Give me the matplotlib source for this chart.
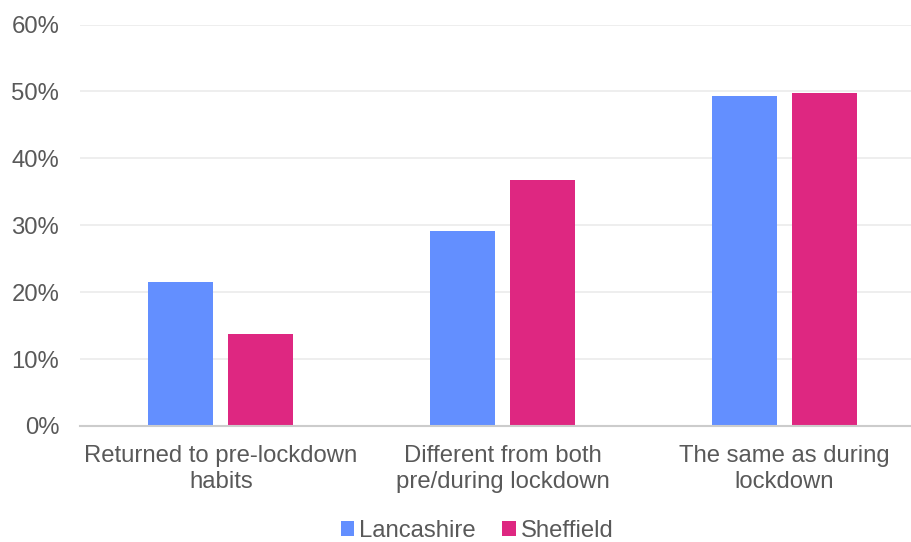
import numpy as np
import matplotlib.pyplot as plt
from matplotlib.ticker import FuncFormatter

plt.rcParams['font.family'] = ['Liberation Sans', 'DejaVu Sans']

categories = ["Returned to pre-lockdown\nhabits",
              "Different from both\npre/during lockdown",
              "The same as during\nlockdown"]
lancashire = [21.5, 29.1, 49.3]
sheffield = [13.7, 36.7, 49.8]

blue = '#638FFF'
pink = '#DE2781'
grey_text = '#595959'

W, H = 912, 542
fig = plt.figure(figsize=(W / 100, H / 100), dpi=100)
# axes run a little past the right edge of the figure
ax = fig.add_axes([80 / W, (H - 426) / H, 845.5 / W, 401.5 / H])

x = np.arange(len(categories))
bw = 0.2305
off = 0.1418
ax.bar(x - off, lancashire, bw, color=blue, label='Lancashire', zorder=3)
ax.bar(x + off, sheffield, bw, color=pink, label='Sheffield', zorder=3)

ax.set_xlim(-0.5, len(categories) - 0.5)
ax.set_ylim(0, 60)
ax.set_yticks(range(0, 61, 10))
ax.yaxis.set_major_formatter(FuncFormatter(lambda v, p: f"{v:.0f}%"))
ax.set_xticks(x)
ax.set_xticklabels(categories, linespacing=1.2)
ax.tick_params(axis='both', length=0, labelsize=17.2, colors=grey_text)
ax.tick_params(axis='y', pad=15)
ax.tick_params(axis='x', pad=14)

ax.grid(axis='y', color='#EBEBEB', linewidth=1.2, zorder=0)
for s in ['top', 'right', 'left']:
    ax.spines[s].set_visible(False)
ax.spines['bottom'].set_color('#CCCCCC')
ax.spines['bottom'].set_linewidth(1.5)
ax.spines['bottom'].set_zorder(4)

fig.legend(loc='center', bbox_to_anchor=(477 / W, 1 - 531 / H), ncol=2,
           frameon=False, fontsize=17.2, labelcolor=grey_text,
           handlelength=0.58, handleheight=0.58, handletextpad=0.2,
           columnspacing=1.1, borderaxespad=0)

fig.savefig('out.png', dpi=100)
